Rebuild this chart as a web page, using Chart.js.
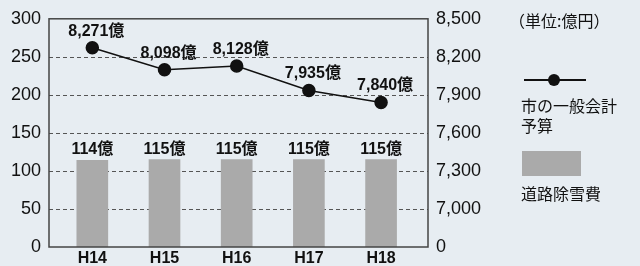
<!DOCTYPE html>
<html>
<head>
<meta charset="utf-8">
<script src="https://cdn.jsdelivr.net/npm/chart.js@4.4.1/dist/chart.umd.min.js"></script>
<style>
html, body { margin: 0; padding: 0; background: #e7edf2; }
#wrap { position: relative; width: 640px; height: 266px; color: #111; }
canvas { position: absolute; left: 0; top: 0; }
.lg { position: absolute; font-family: "Noto Sans CJK JP", sans-serif; font-size: 16px; line-height: 20px; color: #111; white-space: nowrap; }
</style>
</head>
<body>
<div id="wrap">
  <canvas id="chart" width="640" height="266"></canvas>
  <div class="lg" style="left:509px;top:10px">（単位:億円）</div>
  <div style="position:absolute;left:524px;top:79px;width:62px;height:2px;background:#111"></div>
  <div style="position:absolute;left:548px;top:74px;width:12px;height:12px;border-radius:50%;background:#111"></div>
  <div class="lg" style="left:521px;top:95px">市の一般会計<br>予算</div>
  <div style="position:absolute;left:522px;top:151px;width:59px;height:25px;background:#aaaaaa"></div>
  <div class="lg" style="left:521px;top:183px">道路除雪費</div>
</div>
<script>
// データ
const years = ['H14', 'H15', 'H16', 'H17', 'H18'];
const snowCost = [114, 115, 115, 115, 115];          // 道路除雪費 (億円)
const generalBudget = [8271, 8098, 8128, 7935, 7840]; // 市の一般会計予算 (億円)

const leftTicks = [0, 50, 100, 150, 200, 250, 300];
const rightTicks = [6700, 7000, 7300, 7600, 7900, 8200, 8500]; // 6700 は "0" と表示 (省略軸)

const fontNum = '"Liberation Sans", Arial, sans-serif';
const fontLabel = '"Liberation Sans", "Noto Sans CJK JP", sans-serif';

// 破線グリッド
const dashedGrid = {
    id: 'dashedGrid',
    beforeDatasetsDraw(chart) {
        const { ctx, chartArea: a } = chart;
        const ys = chart.scales.y;
        ctx.save();
        ctx.strokeStyle = '#555';
        ctx.lineWidth = 1;
        ctx.setLineDash([4, 3]);
        leftTicks.slice(1, -1).forEach(v => {
            const py = Math.round(ys.getPixelForValue(v)) + 0.5;
            ctx.beginPath();
            ctx.moveTo(a.left, py);
            ctx.lineTo(a.right, py);
            ctx.stroke();
        });
        ctx.restore();
    }
};

// 枠線
const frame = {
    id: 'frame',
    afterDatasetsDraw(chart) {
        const { ctx, chartArea: a } = chart;
        ctx.save();
        ctx.strokeStyle = '#444';
        ctx.lineWidth = 1.5;
        ctx.strokeRect(a.left, a.top, a.right - a.left, a.bottom - a.top);
        ctx.restore();
    }
};

// 値ラベル
const valueLabels = {
    id: 'valueLabels',
    afterDatasetsDraw(chart) {
        const ctx = chart.ctx;
        ctx.save();
        ctx.fillStyle = '#111';
        ctx.textAlign = 'center';
        ctx.textBaseline = 'alphabetic';
        ctx.font = 'bold 16px ' + fontLabel;
        chart.getDatasetMeta(1).data.forEach((bar, i) => {
            ctx.fillText(snowCost[i] + '億', bar.x, bar.y - 6);
        });
        chart.getDatasetMeta(0).data.forEach((pt, i) => {
            ctx.fillText(generalBudget[i].toLocaleString('en-US') + '億', pt.x + 4, pt.y - 12);
        });
        ctx.restore();
    }
};

new Chart(document.getElementById('chart'), {
    type: 'bar',
    data: {
        datasets: [{
            type: 'line',
            label: '市の一般会計予算',
            data: generalBudget.map((v, i) => ({ x: i, y: v })),
            yAxisID: 'y2',
            borderColor: '#111',
            borderWidth: 1.5,
            pointBackgroundColor: '#111',
            pointBorderColor: '#111',
            pointRadius: 6,
            tension: 0,
            order: 0
        }, {
            type: 'bar',
            label: '道路除雪費',
            data: snowCost.map((v, i) => ({ x: i, y: v })),
            yAxisID: 'y',
            backgroundColor: '#aaaaaa',
            barThickness: 31,
            order: 1
        }]
    },
    options: {
        responsive: false,
        animation: false,
        devicePixelRatio: 1,
        layout: { padding: { top: 17, left: 0, right: 0, bottom: 0 } },
        plugins: { legend: { display: false }, tooltip: { enabled: false } },
        scales: {
            x: {
                type: 'linear',
                offset: false,
                min: -0.6,
                max: 4.65,
                afterBuildTicks: s => { s.ticks = years.map((_, i) => ({ value: i })); },
                afterFit: s => { s.height = 19; },
                grid: { display: false, drawTicks: false },
                border: { display: false },
                ticks: {
                    callback: v => years[v],
                    color: '#111',
                    padding: 2,
                    maxRotation: 0,
                    font: { family: fontNum, size: 16, weight: 'bold' }
                }
            },
            y: {
                position: 'left',
                min: 0,
                max: 300,
                afterBuildTicks: s => { s.ticks = leftTicks.map(v => ({ value: v })); },
                afterFit: s => { s.width = 49; },
                grid: { display: false, drawTicks: false },
                border: { display: false },
                ticks: {
                    color: '#111',
                    padding: 8,
                    font: { family: fontNum, size: 18 }
                }
            },
            y2: {
                position: 'right',
                min: 6700,
                max: 8500,
                afterBuildTicks: s => { s.ticks = rightTicks.map(v => ({ value: v })); },
                afterFit: s => { s.width = 212; },
                grid: { display: false, drawTicks: false },
                border: { display: false },
                ticks: {
                    callback: v => v === 6700 ? '0' : v.toLocaleString('en-US'),
                    color: '#111',
                    padding: 8,
                    font: { family: fontNum, size: 18 }
                }
            }
        }
    },
    plugins: [dashedGrid, frame, valueLabels]
});
</script>
</body>
</html>
